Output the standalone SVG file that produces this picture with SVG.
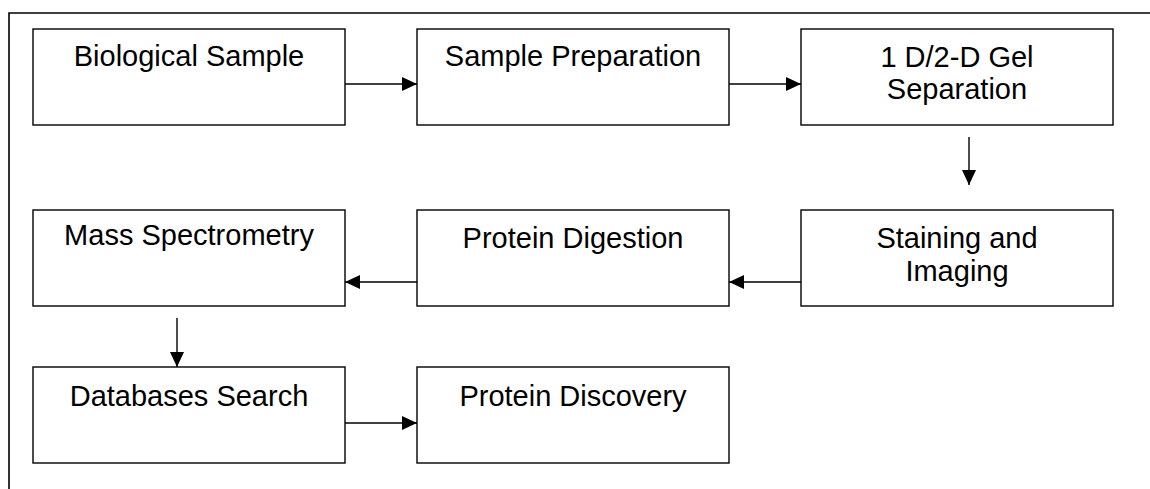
<svg xmlns="http://www.w3.org/2000/svg" width="1150" height="489" viewBox="0 0 1150 489">
<style>
.box{fill:#fff;stroke:#000;stroke-width:1.4}
.lbl{font-family:"Liberation Sans",Arial,sans-serif;font-size:29px;fill:#000;text-anchor:middle}
.conn{stroke:#000;stroke-width:1.4;fill:none}
.frame{stroke:#000;stroke-width:1.6;fill:none}
</style>
<defs>
<marker id="ah" markerUnits="userSpaceOnUse" markerWidth="16" markerHeight="14" refX="15" refY="7" orient="auto">
<path d="M0,0 L15,7 L0,14 Z" fill="#000"/>
</marker>
</defs>
<rect width="1150" height="489" fill="#fff"/>
<path class="frame" d="M9,489 L9,13 L1150,13"/>
<g id="n1"><rect class="box" x="33" y="29" width="312" height="96"/><text class="lbl" x="189" y="66">Biological Sample</text></g>
<g id="n2"><rect class="box" x="417" y="29" width="312" height="96"/><text class="lbl" x="573" y="66">Sample Preparation</text></g>
<g id="n3"><rect class="box" x="801" y="29" width="312" height="96"/><text class="lbl" x="957" y="66.5">1 D/2-D Gel</text><text class="lbl" x="957" y="99">Separation</text></g>
<g id="n4"><rect class="box" x="801" y="210" width="312" height="96"/><text class="lbl" x="957" y="247.5">Staining and</text><text class="lbl" x="957" y="281">Imaging</text></g>
<g id="n5"><rect class="box" x="417" y="210" width="312" height="96"/><text class="lbl" x="573" y="248">Protein Digestion</text></g>
<g id="n6"><rect class="box" x="33" y="210" width="312" height="96"/><text class="lbl" x="189" y="244.5">Mass Spectrometry</text></g>
<g id="n7"><rect class="box" x="33" y="367" width="312" height="96"/><text class="lbl" x="189" y="405.5">Databases Search</text></g>
<g id="n8"><rect class="box" x="417" y="367" width="312" height="96"/><text class="lbl" x="573" y="406">Protein Discovery</text></g>
<g id="connectors">
<line class="conn" x1="345" y1="84" x2="417" y2="84" marker-end="url(#ah)"/>
<line class="conn" x1="729" y1="84" x2="801" y2="84" marker-end="url(#ah)"/>
<line class="conn" x1="969" y1="137" x2="969" y2="185" marker-end="url(#ah)"/>
<line class="conn" x1="801" y1="282" x2="729" y2="282" marker-end="url(#ah)"/>
<line class="conn" x1="417" y1="282" x2="345" y2="282" marker-end="url(#ah)"/>
<line class="conn" x1="177" y1="318" x2="177" y2="367" marker-end="url(#ah)"/>
<line class="conn" x1="345" y1="423" x2="417" y2="423" marker-end="url(#ah)"/>
</g>
</svg>
